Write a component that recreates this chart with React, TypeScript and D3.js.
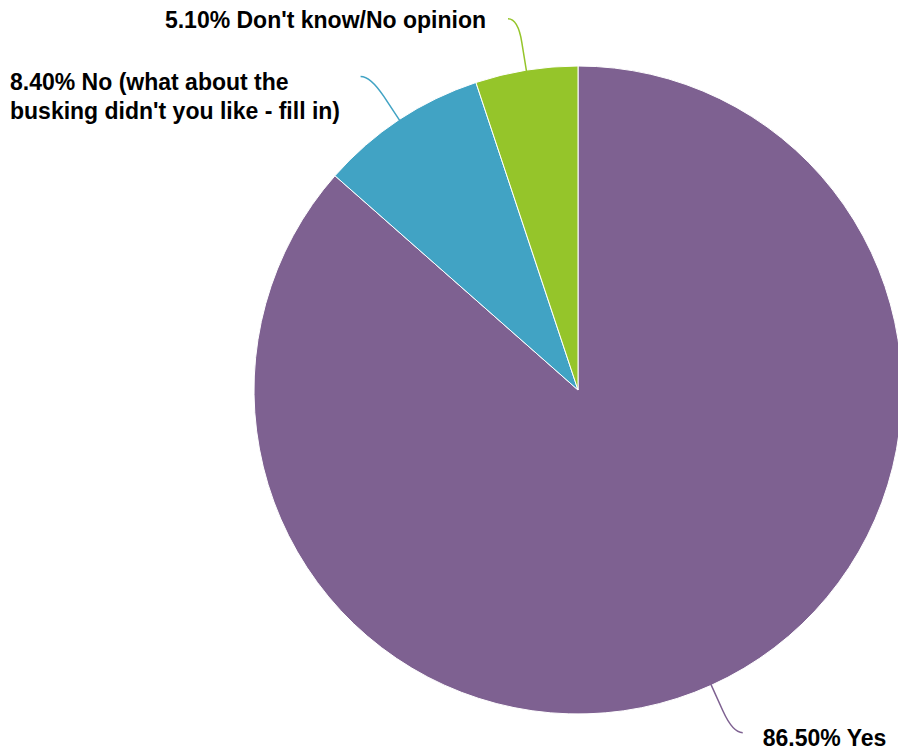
import React from "react";
import * as d3 from "d3";

const categories = ["Yes", "No (what about the busking didn't you like - fill in)", "Don't know/No opinion"];
const values = [86.5, 8.4, 5.1];
const labelLines = [
  ["86.50% Yes"],
  ["8.40% No (what about the", "busking didn't you like - fill in)"],
  ["5.10% Don't know/No opinion"],
];
const colors = ["#7e6191", "#41a3c4", "#95c52a"];

const W = 898;
const H = 752;
const cx = 578;
const cy = 390;
const R = 324;

export default function App() {
  const pie = d3.pie<number>().sort(null).value((d) => d);
  const arcs = pie(values);
  const arcGen = d3.arc<d3.PieArcDatum<number>>().innerRadius(0).outerRadius(R);

  const pt = (a: number, r: number) => [cx + r * Math.sin(a), cy - r * Math.cos(a)];

  return (
    <svg
      width={W}
      height={H}
      style={{ position: "fixed", left: 0, top: 0, background: "#fff" }}
      fontFamily="'Liberation Sans', Arial, Helvetica, sans-serif"
    >
      <g transform={`translate(${cx},${cy})`}>
        {arcs.map((a, i) => (
          <path key={categories[i]} d={arcGen(a) || ""} fill={colors[i]} stroke="#fff" strokeWidth={1} />
        ))}
      </g>
      {arcs.map((a, i) => {
        const mid = (a.startAngle + a.endAngle) / 2;
        const right = Math.sin(mid) > 0;
        const p0 = pt(mid, R - 1);
        const p1 = pt(mid, 352);
        const c = pt(mid, 376);
        const end = [c[0] + (right ? 10 : -10), c[1]];
        const path = `M${p0[0]},${p0[1]}L${p1[0]},${p1[1]}Q${c[0]},${c[1]} ${end[0]},${end[1]}`;
        let textEl;
        if (i === 0) {
          textEl = (
            <text x={end[0] + 20} y={end[1] + 13} textAnchor="start">
              {labelLines[i][0]}
            </text>
          );
        } else if (i === 1) {
          textEl = (
            <text x={10} y={end[1] + 14} textAnchor="start">
              {labelLines[i].map((l, j) => (
                <tspan key={j} x={10} dy={j === 0 ? 0 : 29}>
                  {l}
                </tspan>
              ))}
            </text>
          );
        } else {
          textEl = (
            <text x={end[0] - 22} y={end[1] + 9} textAnchor="end">
              {labelLines[i][0]}
            </text>
          );
        }
        return (
          <g key={"l" + i}>
            <path d={path} fill="none" stroke={colors[i]} strokeWidth={1.5} />
            <g fontSize={23} fontWeight="bold" fill="#000">
              {textEl}
            </g>
          </g>
        );
      })}
    </svg>
  );
}
